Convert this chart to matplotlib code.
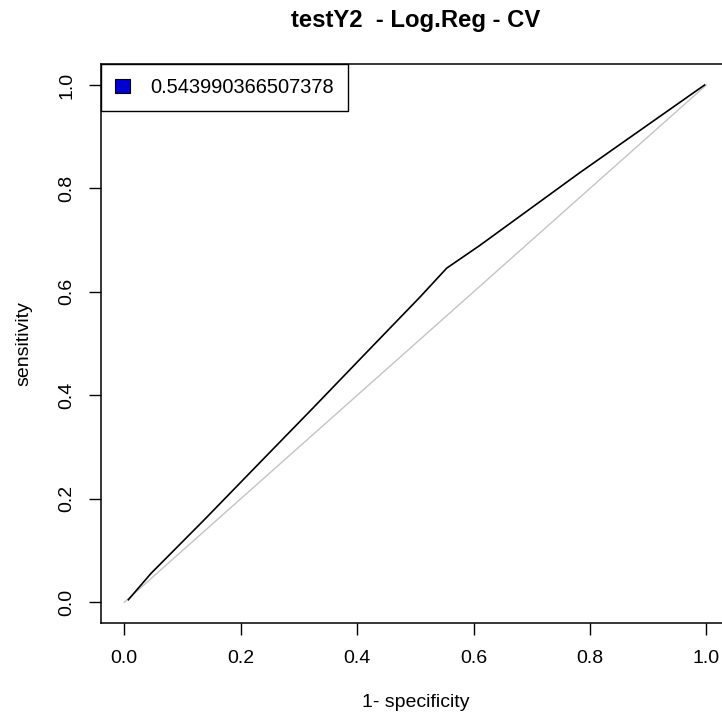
import matplotlib
matplotlib.use("Agg")
import matplotlib.pyplot as plt
from matplotlib.patches import Patch

# ROC curve
fpr = [0.007, 0.046, 0.137, 0.232, 0.322, 0.417, 0.508, 0.554, 0.611, 0.782, 0.997]
tpr = [0.005, 0.056, 0.159, 0.269, 0.373, 0.484, 0.590, 0.646, 0.690, 0.830, 1.000]
chance = [0.0, 1.0]
auc_label = "0.543990366507378"
ticks = [0.0, 0.2, 0.4, 0.6, 0.8, 1.0]
tick_labels = ["0.0", "0.2", "0.4", "0.6", "0.8", "1.0"]
title = "testY2  - Log.Reg - CV"

plt.rcParams['font.family'] = ['Liberation Sans', 'DejaVu Sans']

W, H = 722, 720
fig = plt.figure(figsize=(W / 100, H / 100), dpi=100)
left_px, right_px, top_px, bottom_px = 101, 729.6, 64.3, 623
ax = fig.add_axes([left_px / W, (H - bottom_px) / H,
                   (right_px - left_px) / W, (bottom_px - top_px) / H])

ax.plot(chance, chance, color='#c4c4c4', lw=1.0)
ax.plot(fpr, tpr, color='black', lw=1.2)

ax.set_xlim(-0.04, 1.04)
ax.set_ylim(-0.04, 1.04)
ax.set_xticks(ticks)
ax.set_xticklabels(tick_labels)
ax.set_yticks(ticks)
ax.set_yticklabels(tick_labels, rotation=90, va='center')

for s in ax.spines.values():
    s.set_linewidth(1.1)
    s.set_color('black')

ax.tick_params(axis='both', direction='out', length=8.6, width=1.0,
               labelsize=14, color='black')
ax.tick_params(axis='x', pad=11)
ax.tick_params(axis='y', pad=10)

ax.set_xlabel("1- specificity", fontsize=14)
ax.xaxis.set_label_coords(0.5, -0.1414)
ax.xaxis.label.set_va('center')
ax.set_ylabel("sensitivity", fontsize=14)
ax.yaxis.set_label_coords(-0.1225, 0.5)
ax.yaxis.label.set_va('center')

ax.set_title(title, fontsize=17.2, fontweight='bold', y=(bottom_px - 21) / (bottom_px - top_px),
             va='center', pad=0)

leg = ax.legend(handles=[Patch(facecolor='#0000d0', edgecolor='black', linewidth=0.8, label=auc_label)],
                loc='upper left', bbox_to_anchor=(0, 1), borderaxespad=0,
                fancybox=False, framealpha=1, edgecolor='black', fontsize=14.4,
                handlelength=0.75, handleheight=0.7, handletextpad=1.0, borderpad=0.7)
leg.get_frame().set_linewidth(1.0)

fig.savefig("out.png", dpi=100, facecolor='white')
